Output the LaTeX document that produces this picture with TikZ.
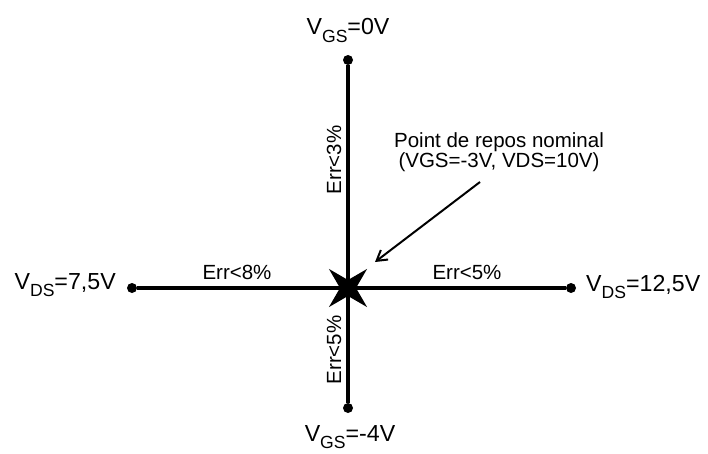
\documentclass[tikz,border=0pt]{standalone}
\usepackage{fontspec}
\setmainfont{Liberation Sans}
\usetikzlibrary{calc,arrows.meta}
\newcommand{\vsub}[1]{\raisebox{-0.34em}{\fontsize{15}{15}\selectfont #1}}

\begin{document}
\begin{tikzpicture}[x=0.03cm,y=-0.03cm]
\tikzset{
  axis/.style={line width=2.8pt},
  dot/.style={circle,fill=black,inner sep=0pt,minimum size=0.3cm},
  lbl/.style={font=\fontsize{19.8}{22}\selectfont,inner sep=0pt},
  err/.style={font=\fontsize{17.5}{20}\selectfont,inner sep=0pt},
  note/.style={font=\fontsize{17.5}{16.2}\selectfont,align=center,inner sep=0pt}
}
\useasboundingbox (0,0) rectangle (708,453);
% bornes du domaine
\node[dot] (top) at (348,60) {};
\node[dot] (bot) at (348,408) {};
\node[dot] (lft) at (132,288) {};
\node[dot] (rgt) at (571,288) {};
\coordinate (pq) at (348,288);
\draw[axis] (top) -- (bot);
\draw[axis] (lft) -- (rgt);
% point de repos
\fill ($(pq)+(45:27)$) -- ($(pq)+(90:8)$) -- ($(pq)+(135:27)$) -- ($(pq)+(180:8)$)
  -- ($(pq)+(225:27)$) -- ($(pq)+(270:8)$) -- ($(pq)+(315:27)$) -- ($(pq)+(0:8)$) -- cycle;
% tensions aux bornes
\node[lbl,anchor=base] (vgs0) at (348,35) {V\vsub{GS}=0V};
\node[lbl,anchor=base] (vgs4) at (350,441) {V\vsub{GS}=-4V};
\node[lbl,anchor=base east] (vds75) at (116,289) {V\vsub{DS}=7,5V};
\node[lbl,anchor=base west] (vds125) at (586,291) {V\vsub{DS}=12,5V};
% erreurs
\node[err,rotate=90] (e3) at (334,160) {Err<3\%};
\node[err,rotate=90] (e5b) at (334,350) {Err<5\%};
\node[err] (e8) at (237,272) {Err<8\%};
\node[err] (e5r) at (467,272) {Err<5\%};
% legende
\node[note,anchor=north] (pdr) at (499,132) {Point de repos nominal\\(VGS=-3V, VDS=10V)};
\coordinate (ptr) at (480,182);
\coordinate (tip) at (375,262);
\draw[line width=1.7pt,-{Straight Barb[length=0.3cm,width=0.36cm]}] (ptr) -- (tip);
\end{tikzpicture}
\end{document}
